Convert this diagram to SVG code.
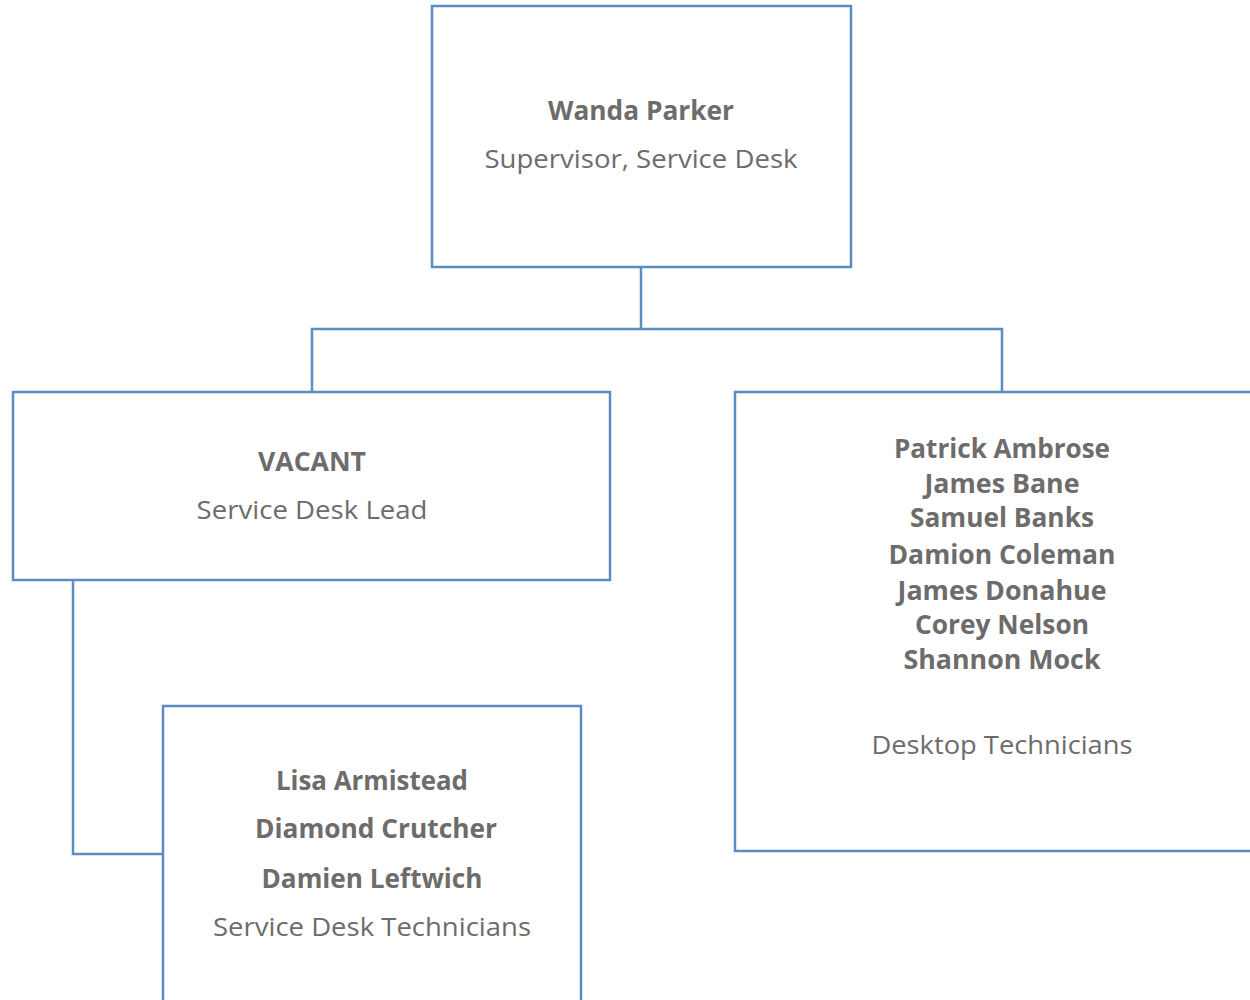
<svg xmlns="http://www.w3.org/2000/svg" width="1250" height="1000" viewBox="0 0 1250 1000">
<style>
.box{fill:#ffffff;stroke:#5b8cc4;stroke-width:2.5}
.conn{fill:none;stroke:#5b8cc4;stroke-width:2.5}
text{font-family:"Open Sans","Liberation Sans",sans-serif;fill:#6e6b6b;text-anchor:middle}
.b{font-weight:bold;font-size:26px}
.r{font-size:26px}
</style>
<rect width="1250" height="1000" fill="#ffffff"/>
<g id="connectors">
<path class="conn" d="M641 267 V329 M312 392 V329 H1002 V392"/>
<path class="conn" d="M73 580 V854 H163"/>
</g>
<g id="node-wanda">
<rect class="box" x="432" y="6" width="419" height="261"/>
<text class="b" x="641" y="120" textLength="186" lengthAdjust="spacingAndGlyphs">Wanda Parker</text>
<text class="r" x="641" y="168" textLength="313" lengthAdjust="spacingAndGlyphs">Supervisor, Service Desk</text>
</g>
<g id="node-lead">
<rect class="box" x="13" y="392" width="597" height="188"/>
<text class="b" x="312" y="471" textLength="108" lengthAdjust="spacingAndGlyphs">VACANT</text>
<text class="r" x="312" y="519" textLength="231" lengthAdjust="spacingAndGlyphs">Service Desk Lead</text>
</g>
<g id="node-desktop">
<rect class="box" x="735" y="392" width="530" height="459"/>
<text class="b" x="1002" y="458" textLength="216" lengthAdjust="spacingAndGlyphs">Patrick Ambrose</text>
<text class="b" x="1002" y="493" textLength="155" lengthAdjust="spacingAndGlyphs">James Bane</text>
<text class="b" x="1002" y="527" textLength="184" lengthAdjust="spacingAndGlyphs">Samuel Banks</text>
<text class="b" x="1002" y="564" textLength="227" lengthAdjust="spacingAndGlyphs">Damion Coleman</text>
<text class="b" x="1002" y="600" textLength="209" lengthAdjust="spacingAndGlyphs">James Donahue</text>
<text class="b" x="1002" y="634" textLength="174" lengthAdjust="spacingAndGlyphs">Corey Nelson</text>
<text class="b" x="1002" y="669" textLength="197" lengthAdjust="spacingAndGlyphs">Shannon Mock</text>
<text class="r" x="1002" y="754" textLength="261" lengthAdjust="spacingAndGlyphs">Desktop Technicians</text>
</g>
<g id="node-servicedesk">
<rect class="box" x="163" y="706" width="418" height="310"/>
<text class="b" x="372" y="790" textLength="192" lengthAdjust="spacingAndGlyphs">Lisa Armistead</text>
<text class="b" x="376" y="838" textLength="242" lengthAdjust="spacingAndGlyphs">Diamond Crutcher</text>
<text class="b" x="372" y="888" textLength="221" lengthAdjust="spacingAndGlyphs">Damien Leftwich</text>
<text class="r" x="372" y="936" textLength="318" lengthAdjust="spacingAndGlyphs">Service Desk Technicians</text>
</g>
</svg>
